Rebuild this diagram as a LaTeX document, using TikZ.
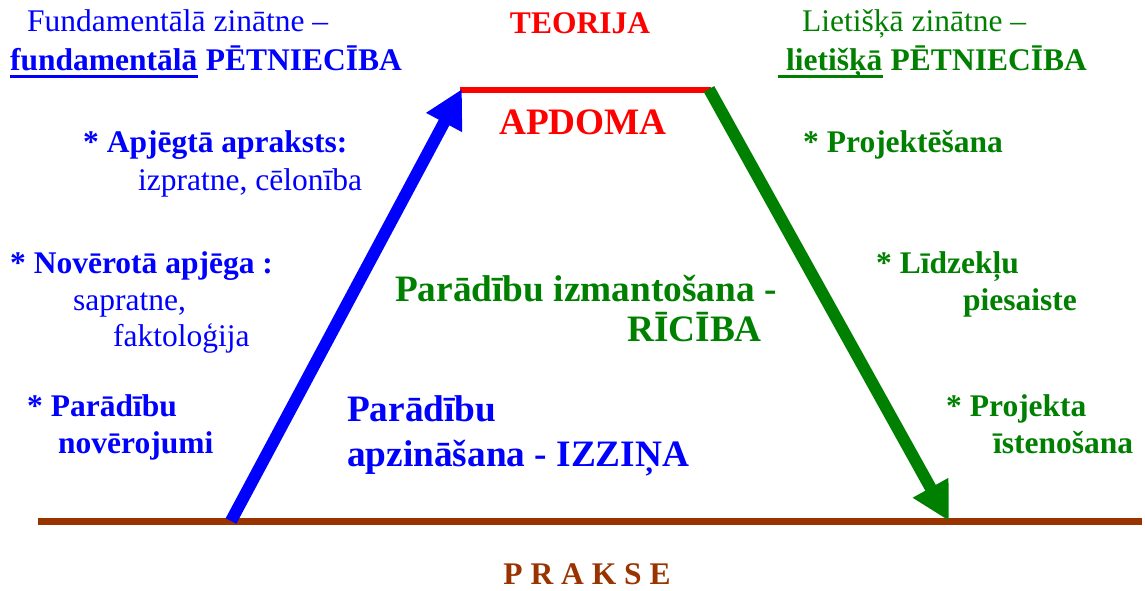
\documentclass[tikz,border=0pt]{standalone}
\usepackage{fontspec}
\setmainfont{Liberation Serif}
\usetikzlibrary{arrows.meta}
\definecolor{myblue}{RGB}{0,0,255}
\definecolor{mygreen}{RGB}{0,128,0}
\definecolor{myred}{RGB}{255,0,0}
\definecolor{mybrown}{RGB}{153,51,0}
\begin{document}
\begin{tikzpicture}[x=1pt,y=-1pt,
  lbl/.style={anchor=base west, inner sep=0pt, font=\fontsize{31.5}{36}\selectfont},
  blbl/.style={anchor=base west, inner sep=0pt, font=\fontsize{31.5}{36}\selectfont\bfseries},
  big/.style={anchor=base west, inner sep=0pt, font=\fontsize{37.3}{42}\selectfont\bfseries},
  uline/.style={line width=3pt},
  bigarrow/.style={line width=12pt, -{Triangle[length=38pt,width=38pt]}}]
\useasboundingbox (0,0) rectangle (1145,590);
% ground line
\coordinate (g1) at (38,521);
\coordinate (g2) at (1142,521);
\draw[mybrown, line width=7pt] (g1) -- (g2);
% top red line
\coordinate (t1) at (460,90);
\coordinate (t2) at (711,90);
\draw[myred, line width=6pt] (t1) -- (t2);
% arrows
\coordinate (b1) at (231,521);
\coordinate (b2) at (462,89);
\draw[myblue, bigarrow] (b1) -- (b2);
\coordinate (gr1) at (709,89);
\coordinate (gr2) at (949,521);
\draw[mygreen, bigarrow] (gr1) -- (gr2);
% top left
\node[lbl, text=myblue] (fz) at (27,31) {Fundamentālā zinātne –};
\node[blbl, text=myblue] (fu) at (10,70) {fundamentālā};
\node[blbl, text=myblue, anchor=base west] (fp) at ([xshift=8pt]fu.base east) {PĒTNIECĪBA};
\draw[myblue, uline] ([yshift=-6pt]fu.base west) -- ([yshift=-6pt]fu.base east);
% top middle
\node[blbl, text=myred, anchor=base] (teo) at (580,33) {TEORIJA};
\node[big, text=myred, anchor=base] (apd) at (583,134) {APDOMA};
% top right
\node[lbl, text=mygreen] (lz) at (802,31) {Lietišķā zinātne –};
\node[blbl, text=mygreen] (lu) at (778,70) {\ lietišķā};
\node[blbl, text=mygreen, anchor=base west] (lp) at ([xshift=8pt]lu.base east) {PĒTNIECĪBA};
\draw[mygreen, uline] ([yshift=-6pt]lu.base west) -- ([yshift=-6pt]lu.base east);
% left labels
\node[blbl, text=myblue] (a1) at (83,152) {* Apjēgtā apraksts:};
\node[lbl, text=myblue] (a2) at (138,190) {izpratne, cēlonība};
\node[blbl, text=myblue] (n1) at (10,273) {* Novērotā apjēga :};
\node[lbl, text=myblue] (n2) at (73,310) {sapratne,};
\node[lbl, text=myblue] (n3) at (113,346) {faktoloģija};
\node[blbl, text=myblue] (p1) at (27,416) {* Parādību};
\node[blbl, text=myblue] (p2) at (58,453) {novērojumi};
% middle
\node[big, text=mygreen] (m1) at (395,301) {Parādību izmantošana -};
\node[big, text=mygreen] (m2) at (627,341) {RĪCĪBA};
\node[big, text=myblue] (c1) at (347,421) {Parādību};
\node[big, text=myblue] (c2) at (347,466) {apzināšana - IZZIŅA};
% right labels
\node[blbl, text=mygreen] (r1) at (803,152) {* Projektēšana};
\node[blbl, text=mygreen] (r2) at (876,273) {* Līdzekļu};
\node[blbl, text=mygreen] (r3) at (963,310) {piesaiste};
\node[blbl, text=mygreen] (r4) at (946,416) {* Projekta};
\node[blbl, text=mygreen] (r5) at (993,453) {īstenošana};
% bottom
\node[blbl, text=mybrown, anchor=base] (pr) at (587,584) {P R A K S E};
\end{tikzpicture}
\end{document}
